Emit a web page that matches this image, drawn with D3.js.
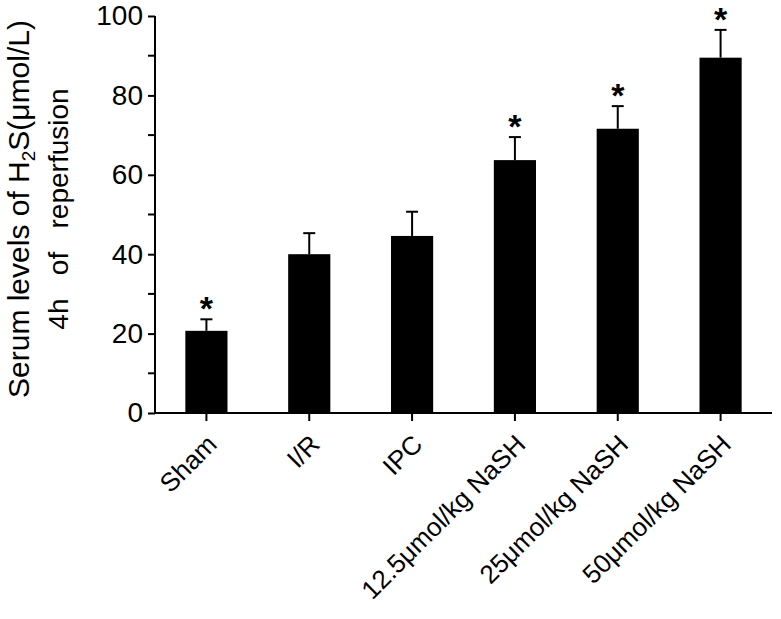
<!DOCTYPE html>
<html>
<head>
<meta charset="utf-8">
<script src="https://cdn.jsdelivr.net/npm/d3@7"></script>
<style>
  html, body { margin: 0; padding: 0; background: #fff; }
  svg { display: block; font-family: "Liberation Sans", Arial, sans-serif; }
</style>
</head>
<body>
<svg id="chart" width="781" height="619"></svg>
<script>
// data
const groups = ["Sham", "I/R", "IPC", "12.5\u03bcmol/kg NaSH", "25\u03bcmol/kg NaSH", "50\u03bcmol/kg NaSH"];
const means  = [20.7, 40.0, 44.6, 63.7, 71.6, 89.5];
const errors = [2.9, 5.3, 6.1, 5.8, 5.7, 7.0];
const starred = [true, false, false, true, true, true];
const majorTicks = [0, 20, 40, 60, 80, 100];
const minorTicks = [10, 30, 50, 70, 90];

const svg = d3.select("#chart");
const x0 = 155, x1 = 772, yTop = 16, yBot = 413;

const x = d3.scaleBand().domain(groups).range([x0, x1]).padding(0);
const y = d3.scaleLinear().domain([0, 100]).range([yBot, yTop]);
const barW = x.bandwidth() * 0.41;
const cx = (d) => x(d) + x.bandwidth() / 2;

// bars
svg.append("g").selectAll("rect")
  .data(groups)
  .join("rect")
  .attr("x", (d) => cx(d) - barW / 2)
  .attr("y", (d, i) => y(means[i]))
  .attr("width", barW)
  .attr("height", (d, i) => y(0) - y(means[i]))
  .attr("fill", "#000");

// error bars (upper only)
const eb = svg.append("g").attr("stroke", "#000").attr("stroke-width", 2);
groups.forEach((g, i) => {
  const top = y(means[i] + errors[i]);
  eb.append("line").attr("x1", cx(g)).attr("x2", cx(g))
    .attr("y1", y(means[i])).attr("y2", top);
  eb.append("line").attr("x1", cx(g) - 6).attr("x2", cx(g) + 6)
    .attr("y1", top).attr("y2", top);
});

// significance stars
svg.append("g").selectAll("text")
  .data(groups.filter((d, i) => starred[i]))
  .join("text")
  .attr("x", (d) => cx(d))
  .attr("y", (d) => y(means[groups.indexOf(d)] + errors[groups.indexOf(d)]) + 1)
  .attr("text-anchor", "middle")
  .attr("font-size", 34)
  .attr("font-weight", "bold")
  .text("*");

// y axis
const yAxis = svg.append("g").attr("transform", `translate(${x0},0)`)
  .call(d3.axisLeft(y).tickValues(majorTicks).tickSize(7).tickPadding(5));
yAxis.append("g")
  .selectAll("line")
  .data(minorTicks)
  .join("line")
  .attr("x1", -7).attr("x2", 0)
  .attr("y1", (d) => y(d)).attr("y2", (d) => y(d))
  .attr("stroke", "#000");
yAxis.select(".domain").attr("d", `M0,${yTop}V${yBot}`);
yAxis.selectAll("line, path").attr("stroke", "#000").attr("stroke-width", 2);
yAxis.selectAll("text")
  .attr("font-size", 28)
  .attr("fill", "#000")
  .attr("font-family", "Liberation Sans, Arial, sans-serif");

// x axis
const xAxis = svg.append("g").attr("transform", `translate(0,${yBot})`)
  .call(d3.axisBottom(x).tickSize(8).tickFormat(""));
xAxis.select(".domain").attr("d", `M${x0},0H${x1}`);
xAxis.selectAll("line, path").attr("stroke", "#000").attr("stroke-width", 2);

// rotated category labels
svg.append("g").selectAll("text")
  .data(groups)
  .join("text")
  .attr("transform", (d) => `translate(${cx(d) + 12},${yBot + 33}) rotate(-45)`)
  .attr("text-anchor", "end")
  .attr("font-size", 26)
  .text((d) => d);

// y axis title, two lines
const t1 = svg.append("text")
  .attr("transform", "translate(29,209) rotate(-90)")
  .attr("text-anchor", "middle")
  .attr("font-size", 30);
t1.append("tspan").text("Serum levels of H");
t1.append("tspan").attr("font-size", 19).attr("dy", 6).text("2");
t1.append("tspan").attr("dy", -6).text("S(\u03bcmol/L)");

svg.append("text")
  .attr("transform", "translate(68,209) rotate(-90)")
  .attr("text-anchor", "middle")
  .attr("font-size", 28)
  .style("white-space", "pre")
  .text("4h   of   reperfusion");
</script>
</body>
</html>
